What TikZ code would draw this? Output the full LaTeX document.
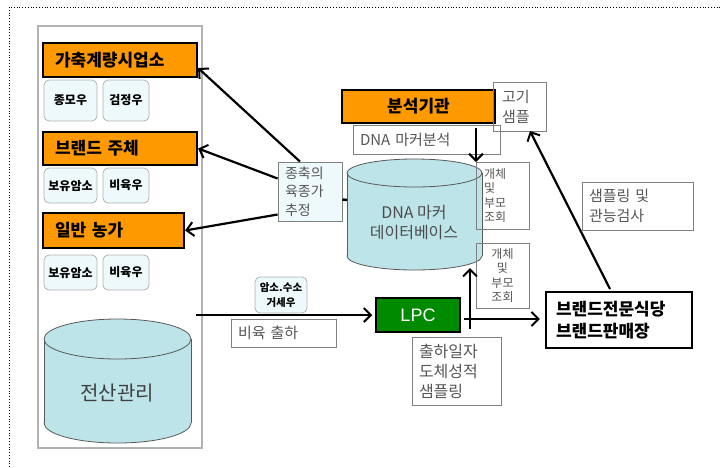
\documentclass[tikz,border=0pt]{standalone}
\usepackage{fontspec}
\setmainfont{Noto Sans CJK KR}
\newfontfamily\latf{Liberation Sans}
\usetikzlibrary{arrows.meta}
\definecolor{orng}{HTML}{FF9900}
\definecolor{cylc}{HTML}{BDE4E8}
\definecolor{pale}{HTML}{EEF9FB}
\definecolor{txtg}{HTML}{555555}
\definecolor{lpcg}{HTML}{008A00}
\newcommand\fs[2]{\fontsize{#1}{#2}\selectfont}
\newcommand\bx[7]{\node[#6, minimum width={(#4)-(#2)}, minimum height={(#5)-(#3)}] (#1) at ({((#2)+(#4))/2},{((#3)+(#5))/2}) {#7};}
\tikzset{
  orangebox/.style={draw=black, line width=2.2pt, fill=orng, inner sep=0pt, font=\fs{17}{20}\bfseries},
  smallbox/.style={draw=gray!60, fill=pale, rounded corners=5pt, line width=0.8pt, inner sep=0pt, font=\fs{12}{13}\bfseries},
  graybox/.style={draw=gray, line width=0.8pt, inner sep=0pt, text=txtg},
  arr/.style={line width=2.2pt, -{Straight Barb[length=7pt,width=14pt,line width=2pt]}},
  cylline/.style={draw=black!65, line width=0.8pt},
}
\begin{document}
\begin{tikzpicture}[x=1pt,y=-1pt]
\useasboundingbox (0,0) rectangle (721,467);
\draw[dotted, line width=0.8pt] (9,467) -- (9,7) -- (721,7);

% left panel
\bx{panel}{38}{26}{202}{448}{draw=gray!60, line width=1.5pt}{}

\bx{org1}{43}{43}{197}{77}{orangebox, text width=130pt, inner xsep=12pt, align=left}{가축계량시업소}
\bx{org2}{43}{132}{197}{165}{orangebox, text width=130pt, inner xsep=12pt, align=left}{브랜드 주체}
\bx{org3}{43}{213}{184}{248}{orangebox, text width=117pt, inner xsep=12pt, align=left}{일반 농가}

\bx{s1}{44}{80}{97}{121}{smallbox}{종모우}
\bx{s2}{103}{80}{149}{121}{smallbox}{검정우}
\bx{s3}{44}{168}{97}{203}{smallbox}{보유암소}
\bx{s4}{103}{168}{149}{203}{smallbox}{비육우}
\bx{s5}{44}{255}{97}{290}{smallbox}{보유암소}
\bx{s6}{103}{255}{149}{290}{smallbox}{비육우}

% cylinder 전산관리
\fill[cylc] (117.5,423) ellipse[x radius=73.5, y radius=20];
\draw[cylline] (117.5,423) ellipse[x radius=73.5, y radius=20];
\fill[cylc] (44,339) rectangle (191,423);
\draw[cylline] (44,339) -- (44,423) (191,339) -- (191,423);
\filldraw[cylc, cylline] (117.5,339) ellipse[x radius=73.5, y radius=20];
\node[text=black!75, font=\fs{20}{22}] (jeonsan) at (117,393) {전산관리};

% DNA cylinder
\fill[cylc] (414.5,256) ellipse[x radius=67.5, y radius=14];
\draw[cylline] (414.5,256) ellipse[x radius=67.5, y radius=14];
\fill[cylc] (347,173) rectangle (482,256);
\draw[cylline] (347,173) -- (347,256) (482,173) -- (482,256);
\filldraw[cylc, cylline] (414.5,173) ellipse[x radius=67.5, y radius=14];
\node[text=black!70, font=\fs{16}{20}, align=center] (db) at (414,223) {DNA 마커\\데이터베이스};
\coordinate (dbW) at (347,200);
\coordinate (dbTop) at (476,162);
\coordinate (dbBot) at (470,268);

% estimation box
\bx{est}{278}{162}{342}{221}{graybox, fill=pale, text width=50pt, inner xsep=7pt, align=left, font=\fs{14}{18.5}}{종축의\\육종가\\추정}

% analysis
\bx{org4}{342}{90}{495}{123}{orangebox}{분석기관}
\bx{dnaan}{353}{125}{500}{154}{graybox, text width=133pt, inner xsep=7pt, align=left, font=\fs{15}{18}}{DNA 마커분석}
\bx{meat}{493}{82}{546}{131}{graybox, text width=35pt, inner xsep=9pt, align=left, font=\fs{15}{20}}{고기\\샘플}
\bx{q1}{476}{162}{529}{229}{graybox, text width=37pt, inner xsep=8pt, align=left, font=\fs{12}{14.2}}{개체\\및\\부모\\조회}
\bx{q2}{476}{243}{529}{308}{graybox, text width=37pt, inner xsep=8pt, align=center, font=\fs{12}{14.5}}{개체\\및\\부모\\조회}
\bx{samp}{582}{182}{693}{230}{graybox, text width=97pt, inner xsep=7pt, align=left, font=\fs{15}{20}}{샘플링 및\\관능검사}

% LPC and downstream
\bx{lpc}{376}{298}{460}{332}{draw=black, line width=1.5pt, fill=lpcg, text=white, font=\latf\fs{18}{20}}{LPC}
\bx{ship}{412}{337}{501}{405}{graybox, text width=75pt, inner xsep=7pt, align=left, font=\fs{16}{20}}{출하일자\\도체성적\\샘플링}
\bx{brand}{546}{292}{692}{348}{draw=black, line width=2.2pt, inner sep=0pt, text width=126pt, inner xsep=10pt, align=left, font=\fs{17}{22}\bfseries}{브랜드전문식당\\브랜드판매장}
\bx{cow}{255}{277}{307}{313}{smallbox, font=\fs{10.5}{15}\bfseries, align=center}{암소.수소\\거세우}
\bx{sell}{231}{319}{336}{347}{graybox, text width=91pt, inner xsep=7pt, align=left, font=\fs{15}{18}}{비육 출하}

% arrows
\draw[arr] ([xshift=-10pt]est.north) -- ([yshift=-8pt]org1.east);
\draw[arr] ([yshift=13pt]est.west) -- (org2.east);
\draw[arr] ([yshift=-23pt]est.west) -- (org3.east);
\draw[line width=2.5pt] ([yshift=-8pt]est.east) -- (dbW);

\coordinate (downS) at (476,128);
\draw[arr] (downS) -- (dbTop);

\coordinate (shipS) at (196,315);
\draw[arr] (shipS) -- ([xshift=-3pt]lpc.west);

\coordinate (upS) at (470,329);
\draw[arr] (upS) -- (dbBot);
\coordinate (rS) at (464,319);
\draw[arr] (rS) -- ([xshift=-5pt]rS -| brand.west);

\coordinate (brandTop) at (610,289);
\coordinate (meatIn) at (530,131);
\draw[arr] (brandTop) -- (meatIn);
\end{tikzpicture}
\end{document}
